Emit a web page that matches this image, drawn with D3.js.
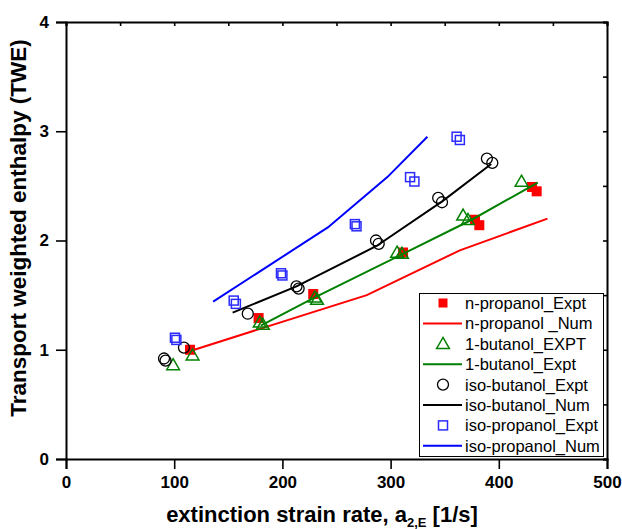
<!DOCTYPE html>
<html>
<head>
<meta charset="utf-8">
<script src="https://cdn.jsdelivr.net/npm/d3@7"></script>
<style>
  body { margin: 0; background: #fff; }
  svg { font-family: "Liberation Sans", Arial, sans-serif; }
</style>
</head>
<body>
<script>
// experimental points (doubled markers are repeat runs)
let nPropExptX = [114.6, 178, 228.5, 311.5, 378, 382, 430.7, 435];
let nPropExptY = [1.00, 1.29, 1.51, 1.89, 2.19, 2.14, 2.49, 2.45];
let nPropNumX = [112, 278, 364, 445];
let nPropNumY = [0.98, 1.50, 1.91, 2.20];

let butExptX = [99, 117, 179, 182, 230, 232, 306, 310.5, 367, 371.5, 421];
let butExptY = [0.86, 0.95, 1.25, 1.23, 1.48, 1.46, 1.89, 1.88, 2.23, 2.19, 2.54];
let butLineX = [180, 230, 310, 375, 436];
let butLineY = [1.22, 1.48, 1.87, 2.19, 2.53];

let isoButExptX = [90.6, 92, 109, 168, 213, 215, 286.5, 289, 344, 347.5, 389, 394];
let isoButExptY = [0.92, 0.90, 1.02, 1.33, 1.58, 1.56, 2.00, 1.97, 2.39, 2.35, 2.75, 2.71];
let isoButNumX = [154, 213, 287, 348, 393];
let isoButNumY = [1.34, 1.58, 1.95, 2.36, 2.70];

let isoPropExptX = [100.7, 102, 155, 157, 198.7, 200, 267, 268.5, 318, 322, 361, 364];
let isoPropExptY = [1.11, 1.09, 1.45, 1.42, 1.70, 1.68, 2.15, 2.13, 2.58, 2.54, 2.95, 2.92];
let isoPropNumX = [136, 242, 297, 334];
let isoPropNumY = [1.44, 2.12, 2.58, 2.95];

let xTicks = [0, 100, 200, 300, 400, 500];
let yTicks = [0, 1, 2, 3, 4];

let legendLabels = ["n-propanol_Expt", "n-propanol _Num", "1-butanol_EXPT", "1-butanol_Expt",
    "iso-butanol_Expt", "iso-butanol_Num", "iso-propanol_Expt", "iso-propanol_Num"];

let width = 622, height = 529;
let svg = d3.select("body").append("svg")
    .attr("width", width)
    .attr("height", height);

let x = d3.scaleLinear().domain([0, 500]).range([66, 607]);
let y = d3.scaleLinear().domain([0, 4]).range([459, 22]);

let zip = function(xs, ys){ return xs.map(function(v, i){ return [v, ys[i]]; }); };
let line = d3.line()
    .x(function(d){ return x(d[0]); })
    .y(function(d){ return y(d[1]); });

/* ------- AXES -------*/
let xMinor = d3.range(0, 501, 50);
let yMinor = d3.range(0, 4.01, 0.5);

// bottom
let bottom = svg.append("g").attr("transform", "translate(0," + y(0) + ")");
bottom.call(d3.axisBottom(x).tickValues(xMinor).tickSize(5).tickFormat(""));
bottom.call(d3.axisBottom(x).tickValues(xTicks).tickSize(10).tickPadding(7).tickFormat(d3.format("d")));
// left
let left = svg.append("g").attr("transform", "translate(" + x(0) + ",0)");
left.call(d3.axisLeft(y).tickValues(yMinor).tickSize(5).tickFormat(""));
left.call(d3.axisLeft(y).tickValues(yTicks).tickSize(10).tickPadding(7).tickFormat(d3.format("d")));
// top and right, ticks inward
svg.append("g").attr("transform", "translate(0," + y(4) + ")")
    .call(d3.axisTop(x).tickValues(xMinor).tickSize(-4).tickFormat(""));
svg.append("g").attr("transform", "translate(" + x(500) + ",0)")
    .call(d3.axisRight(y).tickValues(yMinor).tickSize(-4).tickFormat(""));

svg.selectAll(".domain").attr("stroke", "#000").attr("stroke-width", 2);
svg.selectAll(".tick line").attr("stroke", "#000").attr("stroke-width", 1.6);
svg.selectAll(".tick text")
    .attr("font-size", 17)
    .attr("font-weight", "bold")
    .attr("fill", "#000")
    .attr("font-family", "Liberation Sans, Arial, sans-serif");

/* ------- AXIS TITLES -------*/
svg.append("text")
    .attr("transform", "translate(26,228) rotate(-90)")
    .attr("text-anchor", "middle")
    .attr("font-size", 22.5)
    .attr("font-weight", "bold")
    .text("Transport weighted enthalpy (TWE)");

let xt = svg.append("text")
    .attr("x", 322)
    .attr("y", 522)
    .attr("text-anchor", "middle")
    .attr("font-size", 22)
    .attr("font-weight", "bold");
xt.append("tspan").text("extinction strain rate, a");
xt.append("tspan").attr("font-size", 13).attr("dy", 5).text("2,E");
xt.append("tspan").attr("dy", -5).text(" [1/s]");

/* ------- MARKS -------*/
let plot = svg.append("g");

function squares(g, data, filled, color, size){
    g.selectAll(null).data(data).enter().append("rect")
        .attr("x", function(d){ return x(d[0]) - size / 2; })
        .attr("y", function(d){ return y(d[1]) - size / 2; })
        .attr("width", size).attr("height", size)
        .attr("fill", filled ? color : "none")
        .attr("stroke", color)
        .attr("stroke-width", filled ? 0 : 1.5);
}
function triangles(g, data, color){
    let sym = d3.symbol().type(d3.symbolTriangle).size(70);
    g.selectAll(null).data(data).enter().append("path")
        .attr("d", sym)
        .attr("transform", function(d){ return "translate(" + x(d[0]) + "," + (y(d[1]) + 1) + ")"; })
        .attr("fill", "none")
        .attr("stroke", color)
        .attr("stroke-width", 1.5);
}
function circles(g, data, color){
    g.selectAll(null).data(data).enter().append("circle")
        .attr("cx", function(d){ return x(d[0]); })
        .attr("cy", function(d){ return y(d[1]); })
        .attr("r", 5.5)
        .attr("fill", "none")
        .attr("stroke", color)
        .attr("stroke-width", 1.3);
}
function path(g, data, color){
    g.append("path").datum(data)
        .attr("d", line)
        .attr("fill", "none")
        .attr("stroke", color)
        .attr("stroke-width", 2);
}

squares(plot, zip(nPropExptX, nPropExptY), true, "#ff0000", 10);
path(plot, zip(nPropNumX, nPropNumY), "#ff0000");
triangles(plot, zip(butExptX, butExptY), "#008000");
path(plot, zip(butLineX, butLineY), "#008000");
circles(plot, zip(isoButExptX, isoButExptY), "#000");
path(plot, zip(isoButNumX, isoButNumY), "#000");
squares(plot, zip(isoPropExptX, isoPropExptY), false, "#2b2bff", 9);
path(plot, zip(isoPropNumX, isoPropNumY), "#0000ff");

/* ------- LEGEND -------*/
let legend = svg.append("g");
legend.append("rect")
    .attr("x", 419.5).attr("y", 293.5)
    .attr("width", 184).attr("height", 163)
    .attr("fill", "#fff").attr("stroke", "#000").attr("stroke-width", 1);

let kinds = ["sqf", "line", "tri", "line", "circ", "line", "sq", "line"];
let colors = ["#ff0000", "#ff0000", "#008000", "#008000", "#000", "#000", "#2b2bff", "#0000ff"];

legendLabels.forEach(function(lab, i){
    let cy = 303 + i * 20.4;
    let g = legend.append("g");
    let pt = [[x.invert(443), y.invert(cy)]];
    if(kinds[i] === "line"){
        g.append("line").attr("x1", 423).attr("x2", 462).attr("y1", cy).attr("y2", cy)
            .attr("stroke", colors[i]).attr("stroke-width", 2);
    }
    else if(kinds[i] === "sqf") squares(g, pt, true, colors[i], 9);
    else if(kinds[i] === "sq") squares(g, pt, false, colors[i], 9);
    else if(kinds[i] === "tri") triangles(g, pt, colors[i]);
    else circles(g, pt, colors[i]);
    g.append("text")
        .attr("x", 465).attr("y", cy + 6)
        .attr("font-size", 16.5)
        .text(lab);
});
</script>
</body>
</html>
